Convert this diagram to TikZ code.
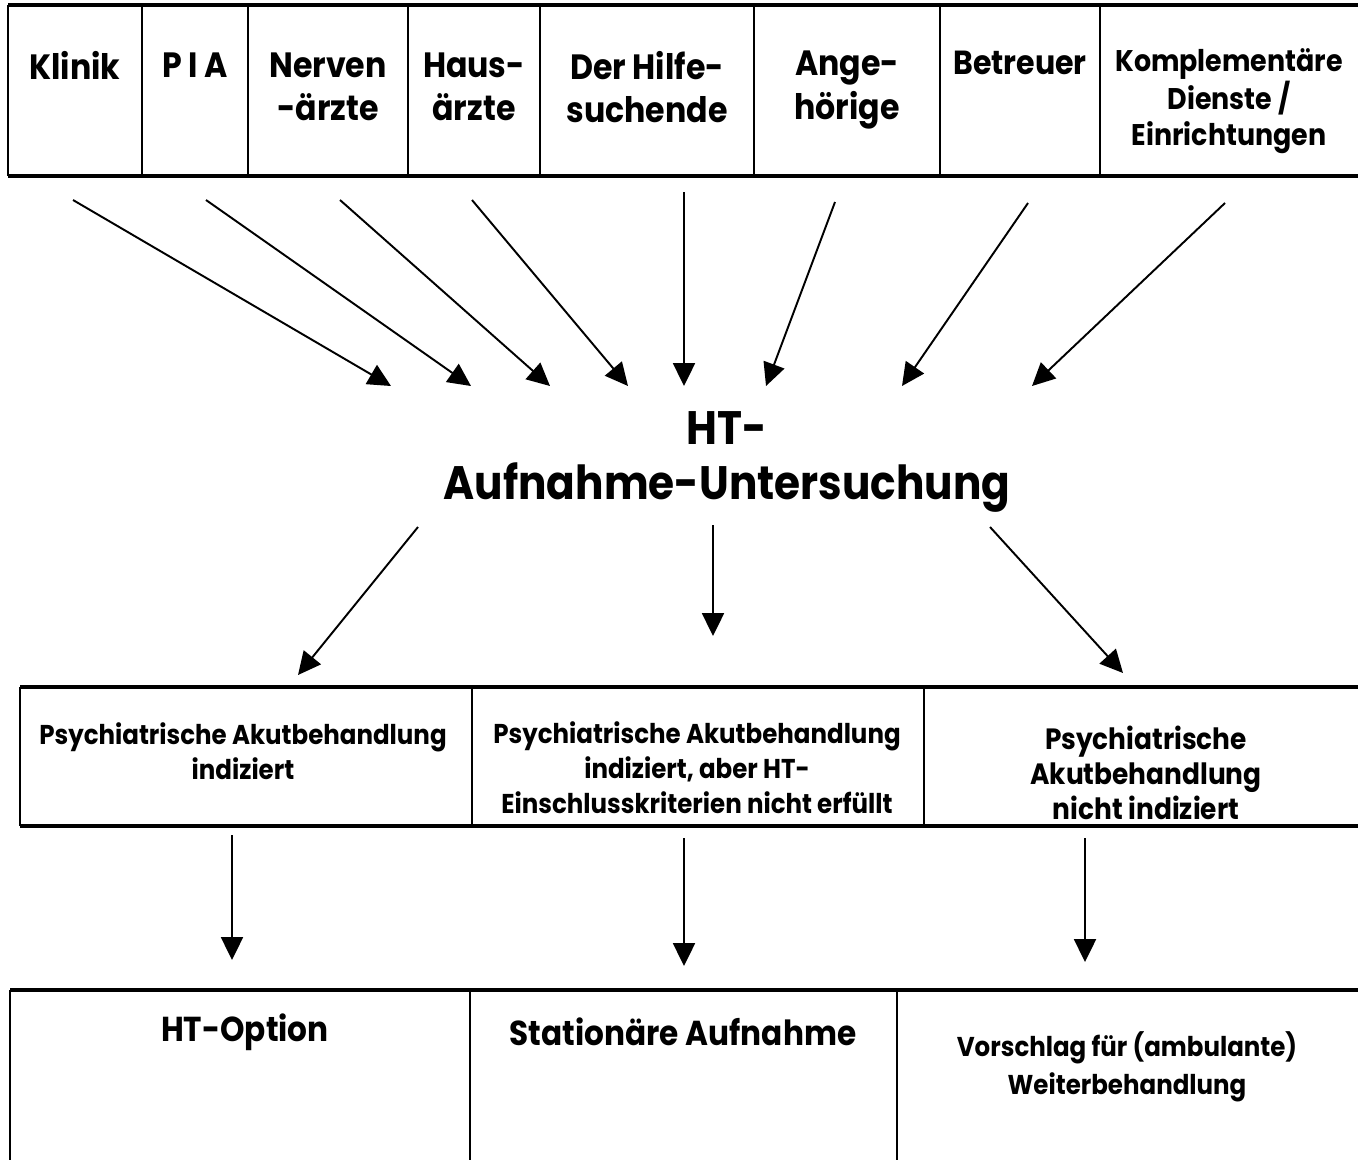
\documentclass[tikz,border=0pt]{standalone}
\usepackage{fontspec}
\setmainfont{Poppins}[FakeStretch=0.9]
\usetikzlibrary{arrows.meta}

\begin{document}
\begin{tikzpicture}[
  x=0.02cm, y=-0.02cm,
  grid/.style={line width=1.1pt},
  rule/.style={line width=2.2pt},
  arr/.style={line width=1.1pt,-{Triangle[length=13pt,width=12.5pt]}},
  head/.style={align=center,font=\bfseries\fontsize{20}{24.5}\selectfont},
  headmd/.style={align=center,font=\bfseries\fontsize{19}{24.5}\selectfont},
  headsm/.style={align=center,font=\bfseries\fontsize{17}{20.2}\selectfont},
  centre/.style={align=center,font=\bfseries\fontsize{26.7}{31.3}\selectfont},
  mid/.style={align=center,font=\bfseries\fontsize{15.5}{20}\selectfont},
  midlg/.style={align=center,font=\bfseries\fontsize{16.7}{20}\selectfont},
  result/.style={align=center,font=\bfseries\fontsize{19.7}{22}\selectfont},
  resultsm/.style={align=center,font=\bfseries\fontsize{15.5}{21.5}\selectfont}
]
  \useasboundingbox (0,0) rectangle (1358,1160);

  % referring sources
  \draw[rule] (8,5) -- (1358,5);
  \draw[rule] (8,176) -- (1358,176);
  \draw[grid] (8,5) -- (8,176) (142,5) -- (142,176) (248,5) -- (248,176)
    (408,5) -- (408,176) (540,5) -- (540,176) (754,5) -- (754,176)
    (940,5) -- (940,176) (1100,5) -- (1100,176);
  \node[head] (klinik) at (75,65) {Klinik};
  \node[head] (pia) at (195,65) {P I A};
  \node[head] (nerven) at (328,87) {Nerven\\-ärzte};
  \node[head] (haus) at (474,87) {Haus-\\ärzte};
  \node[head] (hilfe) at (647,87) {Der Hilfe-\\suchende};
  \node[head] (ange) at (847,90) {Ange-\\hörige};
  \node[headmd] (betreuer) at (1020,63) {Betreuer};
  \node[headsm] (kompl) at (1229,101) {Komplementäre\\Dienste /\\Einrichtungen};

  \node[centre] (ht) at (727,462) {HT-\\Aufnahme-Untersuchung};

  \coordinate (s1) at (73,200);   \coordinate (t1) at (391,386);
  \coordinate (s2) at (206,200);  \coordinate (t2) at (471,386);
  \coordinate (s3) at (340,200);  \coordinate (t3) at (550,386);
  \coordinate (s4) at (472,200);  \coordinate (t4) at (628,386);
  \coordinate (s5) at (684,192);  \coordinate (t5) at (684,386);
  \coordinate (s6) at (835,202);  \coordinate (t6) at (766,386);
  \coordinate (s7) at (1028,203); \coordinate (t7) at (902,386);
  \coordinate (s8) at (1225,203); \coordinate (t8) at (1032,386);
  \draw[arr] (s1) -- (t1);
  \draw[arr] (s2) -- (t2);
  \draw[arr] (s3) -- (t3);
  \draw[arr] (s4) -- (t4);
  \draw[arr] (s5) -- (t5);
  \draw[arr] (s6) -- (t6);
  \draw[arr] (s7) -- (t7);
  \draw[arr] (s8) -- (t8);

  % decision row
  \coordinate (d1) at (418,527); \coordinate (e1) at (298,675);
  \coordinate (d2) at (713,525); \coordinate (e2) at (713,636);
  \coordinate (d3) at (990,527); \coordinate (e3) at (1123,673);
  \draw[arr] (d1) -- (e1);
  \draw[arr] (d2) -- (e2);
  \draw[arr] (d3) -- (e3);

  \draw[rule] (20,687) -- (1358,687);
  \draw[rule] (20,826) -- (1358,826);
  \draw[grid] (20,687) -- (20,826) (472,687) -- (472,826) (924,687) -- (924,826);
  \node[mid] (akut) at (243,751) {Psychiatrische Akutbehandlung\\indiziert};
  \node[mid] (akutht) at (697,768) {Psychiatrische Akutbehandlung\\indiziert, aber HT-\\Einschlusskriterien nicht erfüllt};
  \node[midlg] (nichtakut) at (1146,773) {Psychiatrische\\Akutbehandlung\\nicht indiziert};

  \coordinate (f1) at (232,835);  \coordinate (g1) at (232,960);
  \coordinate (f2) at (684,838);  \coordinate (g2) at (684,966);
  \coordinate (f3) at (1085,838); \coordinate (g3) at (1085,962);
  \draw[arr] (f1) -- (g1);
  \draw[arr] (f2) -- (g2);
  \draw[arr] (f3) -- (g3);

  % outcome row
  \draw[rule] (10,990) -- (1358,990);
  \draw[grid] (10,990) -- (10,1160) (470,990) -- (470,1160) (897,990) -- (897,1160);
  \node[result] (option) at (245,1032) {HT-Option};
  \node[result] (station) at (683,1032) {Stationäre Aufnahme};
  \node[resultsm] (vorschlag) at (1127,1067) {Vorschlag für (ambulante)\\Weiterbehandlung};
\end{tikzpicture}
\end{document}
